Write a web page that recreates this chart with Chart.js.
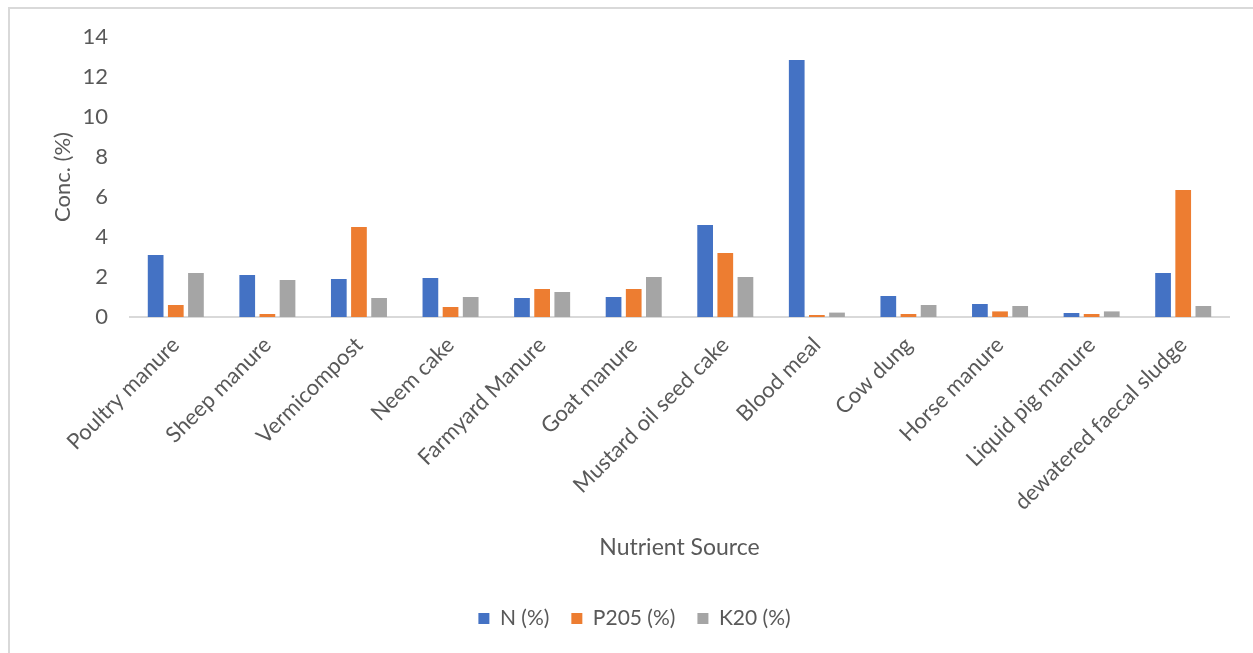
<!DOCTYPE html>
<html>
<head>
<meta charset="utf-8">
<script src="https://cdn.jsdelivr.net/npm/chart.js@4/dist/chart.umd.min.js"></script>
<style>
  html, body { margin: 0; padding: 0; background: #fff; overflow: hidden; }
  #frame {
    position: absolute; left: 8px; top: 7px; width: 1300px; height: 700px;
    border-left: 2px solid #d9d9d9; border-top: 2px solid #d9d9d9;
  }
  #chart { position: absolute; left: 0; top: 0; }
</style>
</head>
<body>
<div id="frame"></div>
<canvas id="chart" width="1253" height="653"></canvas>
<script>
// Data
const categories = ['Poultry manure', 'Sheep manure', 'Vermicompost', 'Neem cake', 'Farmyard Manure',
    'Goat manure', 'Mustard oil seed cake', 'Blood meal', 'Cow dung', 'Horse manure',
    'Liquid pig manure', 'dewatered faecal sludge'];
const nValues = [3.1, 2.1, 1.9, 1.95, 0.95, 1.0, 4.6, 12.85, 1.05, 0.65, 0.2, 2.2];
const pValues = [0.6, 0.15, 4.5, 0.5, 1.4, 1.4, 3.2, 0.1, 0.15, 0.28, 0.15, 6.35];
const kValues = [2.2, 1.85, 0.95, 1.0, 1.25, 2.0, 2.0, 0.22, 0.6, 0.55, 0.28, 0.55];
const seriesNames = ['N (%)', 'P205 (%)', 'K20 (%)'];
const yTicks = [0, 2, 4, 6, 8, 10, 12, 14];

const textColor = '#595959';
const fontFamily = 'Lato, "Open Sans", sans-serif';

// Bar colors
const colors = ['#4472C4', '#ED7D31', '#A5A5A5'];

const ctx = document.getElementById('chart').getContext('2d');
new Chart(ctx, {
    type: 'bar',
    data: {
        labels: categories,
        datasets: [nValues, pValues, kValues].map((vals, i) => ({
            label: seriesNames[i],
            data: vals,
            backgroundColor: colors[i],
            categoryPercentage: 0.66,
            barPercentage: 0.78
        }))
    },
    options: {
        responsive: false,
        animation: false,
        layout: { padding: { top: 37, right: 24, left: 40, bottom: 14 } },
        plugins: {
            legend: {
                position: 'bottom',
                labels: {
                    boxWidth: 11, boxHeight: 11, padding: 22,
                    color: textColor,
                    font: { family: fontFamily, size: 21 }
                }
            },
            tooltip: { enabled: false }
        },
        scales: {
            x: {
                grid: { display: false, drawTicks: false },
                border: { display: true, color: '#d9d9d9', width: 2 },
                ticks: {
                    color: textColor, minRotation: 45, maxRotation: 45, padding: 15,
                    font: { family: fontFamily, size: 22 }
                },
                title: {
                    display: true, text: 'Nutrient Source', color: textColor,
                    font: { family: fontFamily, size: 23 },
                    padding: { top: 0, bottom: 25 }
                },
                afterFit: (scale) => { scale.height = 269; }
            },
            y: {
                min: 0, max: 14,
                afterBuildTicks: (scale) => { scale.ticks = yTicks.map(v => ({ value: v })); },
                grid: { display: false, drawTicks: false },
                border: { display: false },
                ticks: {
                    color: textColor, padding: 22,
                    font: { family: fontFamily, size: 22 }
                },
                title: {
                    display: true, text: 'Conc. (%)', color: textColor,
                    font: { family: fontFamily, size: 22 },
                    padding: { top: 10, bottom: 0 }
                },
                afterFit: (scale) => { scale.width = 90; }
            }
        }
    }
});
</script>
</body>
</html>
